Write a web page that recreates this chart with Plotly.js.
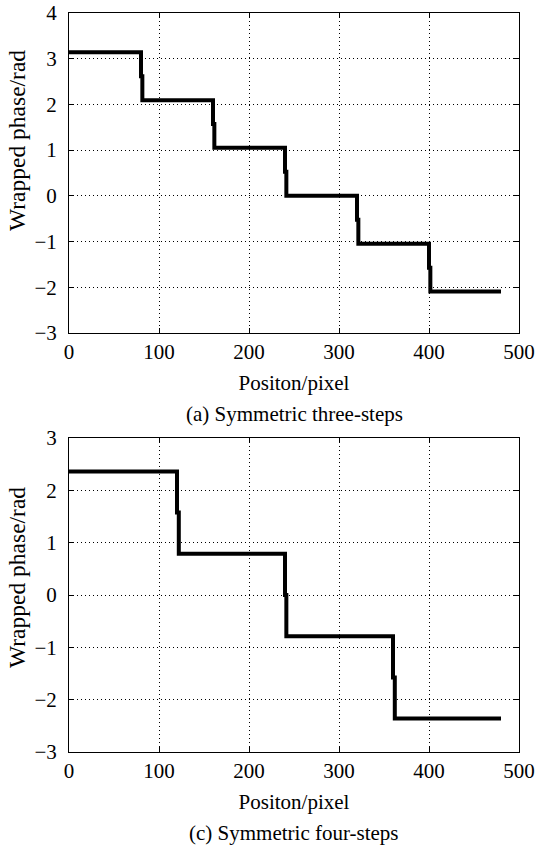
<!DOCTYPE html>
<html>
<head>
<meta charset="utf-8">
<script src="https://cdn.plot.ly/plotly-3.0.1.min.js"></script>
<style>html,body{margin:0;padding:0;background:#fff;}#chart{width:536px;height:854px;}</style>
</head>
<body>
<div id="chart"></div>
<script>
// (a) Symmetric three-steps
const levelsA = [3.14, 2.09, 1.05, 0.00, -1.05, -2.09];
const dropStartA = [80, 160, 240, 320, 400];
const dropEndA = [81.5, 161.5, 241.5, 321.5, 401.5];
const endA = 480;
// (c) Symmetric four-steps
const levelsC = [2.36, 0.79, -0.79, -2.36];
const dropStartC = [120, 240, 360];
const dropEndC = [122, 241.5, 362];
const endC = 480;
const xTicks = [0, 100, 200, 300, 400, 500];
const yTicksA = [-3, -2, -1, 0, 1, 2, 3, 4];
const yTicksC = [-3, -2, -1, 0, 1, 2, 3];

function stairs(levels, ds, de, end) {
  const x = [0], y = [levels[0]];
  for (let i = 0; i < ds.length; i++) {
    const mid = (levels[i] + levels[i + 1]) / 2;
    x.push(ds[i], ds[i], de[i], de[i]);
    y.push(levels[i], mid, mid, levels[i + 1]);
  }
  x.push(end); y.push(levels[levels.length - 1]);
  return {x, y};
}
const sA = stairs(levelsA, dropStartA, dropEndA, endA);
const sC = stairs(levelsC, dropStartC, dropEndC, endC);

const fam = 'Liberation Serif, Times New Roman, serif';
const font = {family: fam, size: 21, color: '#000'};
const yTitleFont = {family: fam, size: 23.5, color: '#000'};
const lineStyle = {color: '#000', width: 4};

const traces = [
  {x: sA.x, y: sA.y, xaxis: 'x', yaxis: 'y', mode: 'lines', line: lineStyle, hoverinfo: 'skip'},
  {x: sC.x, y: sC.y, xaxis: 'x2', yaxis: 'y2', mode: 'lines', line: lineStyle, hoverinfo: 'skip'}
];

function xax(anchor) {
  return {
    anchor: anchor, range: [0, 500], tickvals: xTicks, ticktext: xTicks.map(String),
    showline: true, linecolor: '#000', linewidth: 1, mirror: 'ticks',
    ticks: 'inside', ticklen: 5, tickcolor: '#000', ticklabeloverflow: 'allow',
    showgrid: true, gridcolor: '#000', gridwidth: 1, griddash: '1px,3px',
    zeroline: false, tickfont: font,
    title: {text: 'Positon/pixel', font: font, standoff: 12}
  };
}
function yax(anchor, range, vals, domain) {
  return {
    anchor: anchor, range: range, tickvals: vals, ticktext: vals.map(v => v < 0 ? '\u2212' + Math.abs(v) : String(v)),
    domain: domain,
    showline: true, linecolor: '#000', linewidth: 1, mirror: 'ticks',
    ticks: 'inside', ticklen: 5, tickcolor: '#000', ticklabeloverflow: 'allow',
    ticklabelstandoff: 7,
    showgrid: true, gridcolor: '#000', gridwidth: 1, griddash: '1px,3px',
    zeroline: false, tickfont: font
  };
}

const T = 13, B = 102, H = 854 - T - B;
const py = v => (854 - B - v) / H;
const layout = {
  width: 536, height: 854,
  margin: {l: 69, r: 17, t: T, b: B},
  paper_bgcolor: '#fff', plot_bgcolor: '#fff',
  showlegend: false,
  font: font,
  xaxis: xax('y'),
  yaxis: yax('x', [-3, 4], yTicksA, [py(333), 1]),
  xaxis2: xax('y2'),
  yaxis2: yax('x2', [-3, 3], yTicksC, [0, py(438)]),
  annotations: [
    {text: 'Wrapped phase/rad', textangle: -90, xref: 'paper', yref: 'paper', x: -52 / 450, y: py(141), xanchor: 'center', yanchor: 'middle', showarrow: false, font: yTitleFont},
    {text: 'Wrapped phase/rad', textangle: -90, xref: 'paper', yref: 'paper', x: -52 / 450, y: py(578), xanchor: 'center', yanchor: 'middle', showarrow: false, font: yTitleFont},
    {text: '(a) Symmetric three-steps', xref: 'paper', yref: 'paper', x: 0.5, y: py(414), xanchor: 'center', yanchor: 'middle', showarrow: false, font: font},
    {text: '(c) Symmetric four-steps', xref: 'paper', yref: 'paper', x: 0.5, y: py(833), xanchor: 'center', yanchor: 'middle', showarrow: false, font: font}
  ]
};
Plotly.newPlot('chart', traces, layout, {displayModeBar: false, staticPlot: true});
</script>
</body>
</html>
